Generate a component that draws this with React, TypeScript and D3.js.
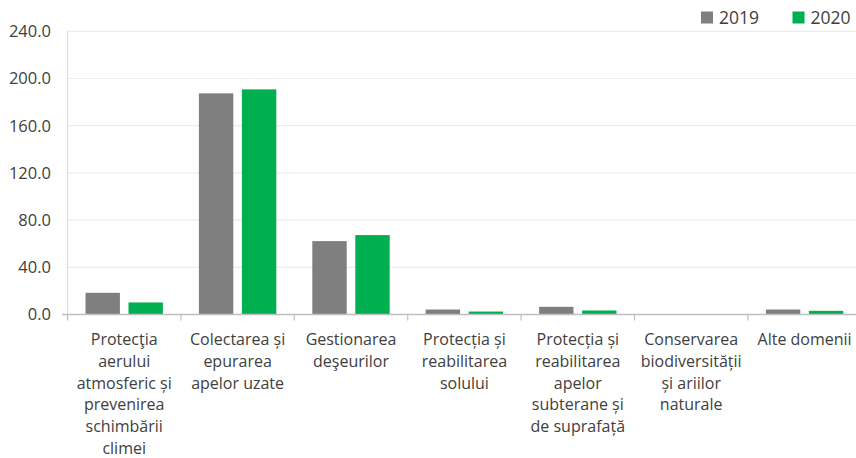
import React, { useEffect, useRef } from "react";
import * as d3 from "d3";

const categories: string[][] = [
  ["Protecţia", "aerului", "atmosferic și", "prevenirea", "schimbării", "climei"],
  ["Colectarea și", "epurarea", "apelor uzate"],
  ["Gestionarea", "deşeurilor"],
  ["Protecția și", "reabilitarea", "solului"],
  ["Protecția și", "reabilitarea", "apelor", "subterane și", "de suprafață"],
  ["Conservarea", "biodiversității", "și ariilor", "naturale"],
  ["Alte domenii"],
];
const series = ["2019", "2020"];
const values2019 = [18.4, 187.4, 62.2, 4.2, 6.5, 0, 4.2];
const values2020 = [10.2, 190.8, 67.3, 2.5, 3.4, 0, 3.1];
const yTicks = [0, 40, 80, 120, 160, 200, 240];
const colors = ["#7f7f7f", "#00b050"];

const W = 856;
const H = 458;
const FONT = "Open Sans, sans-serif";
const TEXT = "#404040";

export default function App() {
  const ref = useRef<SVGSVGElement>(null);
  useEffect(() => {
    const svg = d3.select(ref.current);
    svg.selectAll("*").remove();
    const left = 67.5;
    const step = 113.4;
    const right = left + step * categories.length;
    const top = 31.3;
    const bottom = 314.5;
    const x = d3.scaleBand<number>().domain(d3.range(categories.length)).range([left, right]).paddingInner(0).paddingOuter(0);
    const inner = d3.scaleBand<number>().domain([0, 1]).range([18, step - 18]).paddingInner(0.2);
    const y = d3.scaleLinear().domain([0, 240]).range([bottom, top]);

    // gridlines
    svg.append("g").selectAll("line").data(yTicks.filter((t) => t > 0)).join("line")
      .attr("x1", left).attr("x2", W).attr("y1", (d) => y(d)).attr("y2", (d) => y(d))
      .attr("stroke", "#ececec").attr("stroke-width", 1.2);

    // y tick labels
    svg.append("g").selectAll("text").data(yTicks).join("text")
      .attr("x", 51).attr("y", (d) => y(d)).attr("dy", "0.36em")
      .attr("text-anchor", "end").attr("font-family", FONT).attr("font-size", 16.5)
      .attr("fill", TEXT).text((d) => d.toFixed(1));

    const data = [values2019, values2020];
    data.forEach((vals, si) => {
      svg.append("g").selectAll("rect").data(vals).join("rect")
        .attr("x", (_, i) => (x(i) as number) + (inner(si) as number))
        .attr("width", inner.bandwidth())
        .attr("y", (d) => y(d))
        .attr("height", (d) => bottom - y(d))
        .attr("fill", colors[si]);
    });

    // axes
    svg.append("line").attr("x1", left).attr("x2", left).attr("y1", top).attr("y2", bottom)
      .attr("stroke", "#d9d9d9").attr("stroke-width", 1);
    svg.append("line").attr("x1", 62).attr("x2", W).attr("y1", bottom).attr("y2", bottom)
      .attr("stroke", "#bfbfbf").attr("stroke-width", 1.5);
    svg.append("g").selectAll("line").data(d3.range(categories.length + 1)).join("line")
      .attr("x1", (i) => left + i * step).attr("x2", (i) => left + i * step)
      .attr("y1", bottom).attr("y2", bottom + 6).attr("stroke", "#bfbfbf").attr("stroke-width", 1.2);

    // category labels
    const lab = svg.append("g");
    categories.forEach((lines, i) => {
      const cx = (x(i) as number) + step / 2;
      const t = lab.append("text").attr("text-anchor", "middle").attr("font-family", FONT)
        .attr("font-size", 16).attr("fill", TEXT);
      lines.forEach((ln, j) => {
        t.append("tspan").attr("x", cx).attr("y", 345 + j * 21.8).text(ln);
      });
    });

    // legend
    const lg = svg.append("g");
    const lx = [701, 792.5];
    series.forEach((s, i) => {
      lg.append("rect").attr("x", lx[i]).attr("y", 11.5).attr("width", 12).attr("height", 12).attr("fill", colors[i]);
      lg.append("text").attr("x", lx[i] + 18).attr("y", 23.5).attr("font-family", FONT)
        .attr("font-size", 17.5).attr("fill", TEXT).text(s);
    });
  }, []);
  return (
    <svg ref={ref} width={W} height={H} style={{ position: "absolute", left: 0, top: 0, background: "#fff" }} />
  );
}
